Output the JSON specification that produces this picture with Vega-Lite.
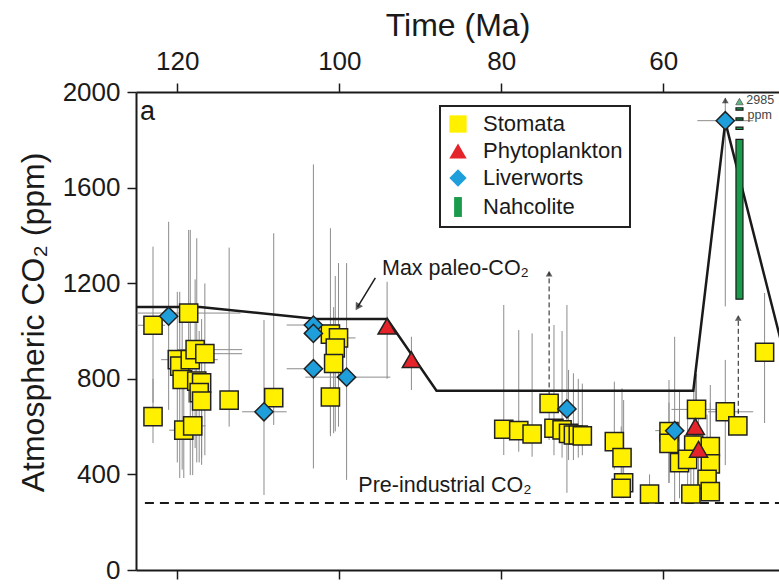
{
  "$schema": "https://vega.github.io/schema/vega-lite/v6.json",
  "width": 643,
  "height": 478,
  "autosize": {"type": "none"},
  "padding": {"left": 136, "top": 92, "right": 0, "bottom": 15},
  "background": "white",
  "config": {
    "view": {"stroke": null},
    "font": "Liberation Sans",
    "numberFormat": "d",
    "scale": {"continuousPadding": 0},
    "axis": {"grid": false, "domainColor": "#1a1a1a", "domainWidth": 2, "tickColor": "#1a1a1a", "tickWidth": 1.5, "tickSize": 9, "labelFont": "Liberation Sans", "labelFontSize": 26, "labelColor": "#1a1a1a", "titleFont": "Liberation Sans", "titleFontSize": 32, "titleFontWeight": "normal", "titleColor": "#1a1a1a"},
    "axisY": {"titlePadding": 12, "labelPadding": 7, "titleY": 230},
    "legend": {"orient": "none", "legendX": 304, "legendY": 14, "strokeColor": "#222", "strokeWidth": 2, "fillColor": "white", "padding": 7, "labelFont": "Liberation Sans", "labelFontSize": 22, "labelColor": "#1a1a1a", "symbolSize": 300, "symbolStrokeColor": "#222", "symbolStrokeWidth": 1.5, "rowPadding": 4, "labelOffset": 14}
  },
  "datasets": {
    "pts": [
      {"t":"Stomata","age":123.0,"co2":1024,"lo":700,"hi":1353,"xlo":125,"xhi":121.5},
      {"t":"Stomata","age":123.0,"co2":642,"lo":531,"hi":800},
      {"t":"Stomata","age":118.6,"co2":1075,"lo":700,"hi":1423,"xlo":125,"xhi":112.2},
      {"t":"Stomata","age":120.0,"co2":880,"lo":450,"hi":1164,"xlo":122,"xhi":115},
      {"t":"Stomata","age":119.7,"co2":853,"lo":385,"hi":1164},
      {"t":"Stomata","age":118.4,"co2":880,"lo":397,"hi":1423},
      {"t":"Stomata","age":117.8,"co2":922,"lo":510,"hi":1216,"xlo":120,"xhi":112},
      {"t":"Stomata","age":116.6,"co2":905,"lo":480,"hi":1199,"xlo":118,"xhi":112},
      {"t":"Stomata","age":119.4,"co2":797,"lo":420,"hi":1050},
      {"t":"Stomata","age":117.6,"co2":790,"lo":450,"hi":1388},
      {"t":"Stomata","age":117.0,"co2":783,"lo":470,"hi":1050,"xlo":119,"xhi":116},
      {"t":"Stomata","age":117.3,"co2":742,"lo":450,"hi":1000},
      {"t":"Stomata","age":117.0,"co2":707,"lo":440,"hi":950},
      {"t":"Stomata","age":119.2,"co2":585,"lo":385,"hi":800,"xlo":121,"xhi":118},
      {"t":"Stomata","age":118.1,"co2":603,"lo":397,"hi":850,"xlo":119.5,"xhi":116.5},
      {"t":"Stomata","age":113.6,"co2":711,"lo":600,"hi":1349},
      {"t":"Stomata","age":108.1,"co2":721,"lo":607,"hi":1409},
      {"t":"Stomata","age":101.1,"co2":987,"lo":572,"hi":1430},
      {"t":"Stomata","age":100.1,"co2":971,"lo":600,"hi":1284,"xlo":101.5,"xhi":98},
      {"t":"Stomata","age":100.5,"co2":929,"lo":580,"hi":1230},
      {"t":"Stomata","age":100.7,"co2":864,"lo":572,"hi":1100},
      {"t":"Stomata","age":101.1,"co2":724,"lo":560,"hi":950},
      {"t":"Stomata","age":79.7,"co2":589,"lo":481,"hi":1109},
      {"t":"Stomata","age":77.85,"co2":583,"lo":495,"hi":1004},
      {"t":"Stomata","age":76.2,"co2":569,"lo":474,"hi":990},
      {"t":"Stomata","age":74.1,"co2":697,"lo":544,"hi":697},
      {"t":"Stomata","age":73.5,"co2":593,"lo":480,"hi":1025},
      {"t":"Stomata","age":72.5,"co2":586,"lo":470,"hi":1000},
      {"t":"Stomata","age":71.7,"co2":572,"lo":460,"hi":837},
      {"t":"Stomata","age":71.1,"co2":565,"lo":460,"hi":823},
      {"t":"Stomata","age":70.5,"co2":565,"lo":470,"hi":800},
      {"t":"Stomata","age":70.0,"co2":561,"lo":480,"hi":780},
      {"t":"Stomata","age":66.05,"co2":537,"lo":420,"hi":788},
      {"t":"Stomata","age":65.1,"co2":470,"lo":360,"hi":760},
      {"t":"Stomata","age":64.9,"co2":365,"lo":300,"hi":711},
      {"t":"Stomata","age":65.2,"co2":342,"lo":300,"hi":600},
      {"t":"Stomata","age":61.7,"co2":318,"lo":290,"hi":400},
      {"t":"Stomata","age":59.3,"co2":579,"lo":364,"hi":795},
      {"t":"Stomata","age":59.3,"co2":530,"lo":364,"hi":700},
      {"t":"Stomata","age":55.9,"co2":672,"lo":450,"hi":820,"xlo":59,"xhi":53},
      {"t":"Stomata","age":56.25,"co2":523,"lo":350,"hi":746},
      {"t":"Stomata","age":54.2,"co2":516,"lo":330,"hi":774},
      {"t":"Stomata","age":58.0,"co2":449,"lo":300,"hi":746},
      {"t":"Stomata","age":57.0,"co2":463,"lo":300,"hi":700},
      {"t":"Stomata","age":54.2,"co2":444,"lo":300,"hi":700},
      {"t":"Stomata","age":54.6,"co2":379,"lo":290,"hi":650},
      {"t":"Stomata","age":54.2,"co2":328,"lo":290,"hi":500},
      {"t":"Stomata","age":56.6,"co2":318,"lo":290,"hi":500},
      {"t":"Stomata","age":52.35,"co2":662,"lo":439,"hi":879,"xlo":54.5,"xhi":48.9},
      {"t":"Stomata","age":50.8,"co2":603,"lo":603,"hi":603},
      {"t":"Stomata","age":47.5,"co2":911,"lo":615,"hi":1159,"xlo":48.5,"xhi":46.5},
      {"t":"Phytoplankton","age":94.1,"co2":1020,"lo":800,"hi":1206},
      {"t":"Phytoplankton","age":91.1,"co2":880,"lo":753,"hi":976},
      {"t":"Phytoplankton","age":56.05,"co2":600,"lo":450,"hi":800},
      {"t":"Phytoplankton","age":55.65,"co2":505,"lo":350,"hi":700},
      {"t":"Liverworts","age":121.07,"co2":1062,"lo":670,"hi":1457},
      {"t":"Liverworts","age":109.3,"co2":662,"lo":314,"hi":1046,"xlo":112,"xhi":106.5},
      {"t":"Liverworts","age":103.2,"co2":1025,"lo":425,"hi":1697,"xlo":106.5,"xhi":99.9},
      {"t":"Liverworts","age":103.2,"co2":990},
      {"t":"Liverworts","age":103.2,"co2":842,"xlo":106.5,"xhi":102},
      {"t":"Liverworts","age":99.1,"co2":807,"lo":377,"hi":1284,"xlo":104.2,"xhi":93.7},
      {"t":"Liverworts","age":71.9,"co2":674,"lo":323,"hi":1109},
      {"t":"Liverworts","age":58.6,"co2":583,"lo":282,"hi":976,"xlo":61,"xhi":57.5},
      {"t":"Liverworts","age":52.35,"co2":1880,"lo":1103,"hi":1975,"xlo":55.8,"xhi":48.9}
    ],
    "maxline": [
      {"i":1,"age":125.1,"co2":1100},
      {"i":2,"age":117.2,"co2":1100},
      {"i":3,"age":102.75,"co2":1050},
      {"i":4,"age":94.1,"co2":1050},
      {"i":5,"age":88.0,"co2":750},
      {"i":6,"age":56.3,"co2":750},
      {"i":7,"age":52.35,"co2":1875},
      {"i":8,"age":44.0,"co2":760}
    ],
    "nah": [
      {"age":50.6,"lo":1133,"hi":1802},
      {"age":50.6,"lo":1843,"hi":1853},
      {"age":50.6,"lo":1882,"hi":1892},
      {"age":50.6,"lo":1924,"hi":1934}
    ],
    "dash": [
      {"age":74.1,"lo":697,"hi":1245},
      {"age":50.75,"lo":620,"hi":1060}
    ],
    "heads": [
      {"age":74.1,"co2":1240,"c":"k"},
      {"age":50.75,"co2":1055,"c":"k"},
      {"age":52.35,"co2":1965,"c":"k"},
      {"age":50.6,"co2":1960,"c":"g"}
    ],
    "pre": [{"a1":124.0,"a2":45.7,"co2":280}],
    "arrow": [{"a1":95.55,"c1":1222,"a2":97.75,"c2":1100}]
  },
  "layer": [
    {
      "data": {"name": "pts"},
      "transform": [{"filter": "isValid(datum.hi)"}],
      "mark": {"type": "rule", "color": "#8c8c8c", "strokeWidth": 1},
      "encoding": {
        "x": {"field": "age", "type": "quantitative", "scale": {"domain": [45.72, 125.1], "reverse": true, "nice": false, "zero": false, "padding": 0}, "axis": {"orient": "top", "values": [120, 100, 80, 60], "format": "d", "title": "Time (Ma)", "titlePadding": 6, "labelPadding": 9}},
        "y": {"field": "lo", "type": "quantitative", "scale": {"domain": [0, 2000], "nice": false, "padding": 0}, "axis": {"orient": "left", "values": [0, 400, 800, 1200, 1600, 2000], "format": "d", "title": "Atmospheric CO₂ (ppm)"}},
        "y2": {"field": "hi"}
      }
    },
    {
      "data": {"name": "pts"},
      "transform": [{"filter": "isValid(datum.xlo)"}],
      "mark": {"type": "rule", "color": "#8c8c8c", "strokeWidth": 1},
      "encoding": {
        "x": {"field": "xlo", "type": "quantitative", "axis": {"orient": "bottom", "values": [120, 100, 80, 60], "labels": false, "title": null}},
        "x2": {"field": "xhi"},
        "y": {"field": "co2", "type": "quantitative", "axis": {"orient": "left", "values": [0, 400, 800, 1200, 1600, 2000], "format": "d", "title": "Atmospheric CO₂ (ppm)"}}
      }
    },
    {
      "data": {"name": "dash"},
      "mark": {"type": "rule", "color": "#1a1a1a", "strokeWidth": 1, "strokeDash": [5, 3]},
      "encoding": {
        "x": {"field": "age", "type": "quantitative", "axis": null},
        "y": {"field": "lo", "type": "quantitative", "axis": {"orient": "left", "values": [0, 400, 800, 1200, 1600, 2000], "format": "d", "title": "Atmospheric CO₂ (ppm)"}},
        "y2": {"field": "hi"}
      }
    },
    {
      "data": {"name": "pre"},
      "mark": {"type": "rule", "color": "#1a1a1a", "strokeWidth": 2, "strokeDash": [9, 6]},
      "encoding": {
        "x": {"field": "a1", "type": "quantitative", "axis": null},
        "x2": {"field": "a2"},
        "y": {"field": "co2", "type": "quantitative", "axis": {"orient": "left", "values": [0, 400, 800, 1200, 1600, 2000], "format": "d", "title": "Atmospheric CO₂ (ppm)"}}
      }
    },
    {
      "data": {"name": "maxline"},
      "mark": {"type": "line", "color": "#1a1a1a", "strokeWidth": 2.5, "clip": true},
      "encoding": {
        "x": {"field": "age", "type": "quantitative", "axis": null},
        "y": {"field": "co2", "type": "quantitative", "axis": {"orient": "left", "values": [0, 400, 800, 1200, 1600, 2000], "format": "d", "title": "Atmospheric CO₂ (ppm)"}},
        "order": {"field": "i"}
      }
    },
    {
      "data": {"name": "arrow"},
      "mark": {"type": "rule", "color": "#1a1a1a", "strokeWidth": 1.5},
      "encoding": {
        "x": {"field": "a1", "type": "quantitative", "axis": null},
        "x2": {"field": "a2"},
        "y": {"field": "c1", "type": "quantitative", "axis": {"orient": "left", "values": [0, 400, 800, 1200, 1600, 2000], "format": "d", "title": "Atmospheric CO₂ (ppm)"}},
        "y2": {"field": "c2"}
      }
    },
    {
      "data": {"name": "arrow"},
      "mark": {"type": "point", "shape": "triangle-up", "filled": true, "color": "#1a1a1a", "size": 70, "angle": 211},
      "encoding": {
        "x": {"field": "a2", "type": "quantitative", "axis": null},
        "y": {"field": "c2", "type": "quantitative", "axis": {"orient": "left", "values": [0, 400, 800, 1200, 1600, 2000], "format": "d", "title": "Atmospheric CO₂ (ppm)"}}
      }
    },
    {
      "data": {"name": "nah"},
      "mark": {"type": "bar", "size": 7},
      "encoding": {
        "x": {"field": "age", "type": "quantitative", "axis": null},
        "y": {"field": "lo", "type": "quantitative", "axis": {"orient": "left", "values": [0, 400, 800, 1200, 1600, 2000], "format": "d", "title": "Atmospheric CO₂ (ppm)"}},
        "y2": {"field": "hi"},
        "fill": {"value": "#1A9A4B"},
        "stroke": {"value": "#1a1a1a"},
        "strokeWidth": {"value": 1.2}
      }
    },
    {
      "data": {"name": "heads"},
      "transform": [{"filter": "datum.c == 'k'"}],
      "mark": {"type": "point", "shape": "triangle-up", "filled": true, "size": 45},
      "encoding": {
        "x": {"field": "age", "type": "quantitative", "axis": null},
        "y": {"field": "co2", "type": "quantitative", "axis": {"orient": "left", "values": [0, 400, 800, 1200, 1600, 2000], "format": "d", "title": "Atmospheric CO₂ (ppm)"}},
        "fill": {"value": "#1a1a1a"}
      }
    },
    {
      "data": {"name": "heads"},
      "transform": [{"filter": "datum.c == 'g'"}],
      "mark": {"type": "point", "shape": "triangle-up", "filled": true, "size": 55},
      "encoding": {
        "x": {"field": "age", "type": "quantitative", "axis": null},
        "y": {"field": "co2", "type": "quantitative", "axis": {"orient": "left", "values": [0, 400, 800, 1200, 1600, 2000], "format": "d", "title": "Atmospheric CO₂ (ppm)"}},
        "fill": {"value": "#1A9A4B"},
        "stroke": {"value": "#1a1a1a"},
        "strokeWidth": {"value": 0.8}
      }
    },
    {
      "data": {"name": "pts"},
      "mark": {"type": "point", "filled": true, "size": 330, "opacity": 1},
      "encoding": {
        "x": {"field": "age", "type": "quantitative", "axis": null},
        "y": {"field": "co2", "type": "quantitative", "axis": {"orient": "left", "values": [0, 400, 800, 1200, 1600, 2000], "format": "d", "title": "Atmospheric CO₂ (ppm)"}},
        "fill": {"field": "t", "type": "nominal", "scale": {"domain": ["Stomata", "Phytoplankton", "Liverworts", "Nahcolite"], "range": ["#FFF000", "#E5232A", "#1E9FDB", "#1A9A4B"]}, "legend": {"title": null, "symbolStrokeColor": "#222", "symbolStrokeWidth": 1.5}},
        "shape": {"field": "t", "type": "nominal", "scale": {"domain": ["Stomata", "Phytoplankton", "Liverworts", "Nahcolite"], "range": ["square", "triangle-up", "diamond", "M-0.45,-1.15H0.45V1.15H-0.45Z"]}, "legend": {"title": null, "symbolStrokeColor": "#222", "symbolStrokeWidth": 1.5}},
        "stroke": {"value": "#222"},
        "strokeWidth": {"value": 1.5}
      }
    },
    {
      "data": {"values": [{"age": 124.6, "co2": 1883, "txt": "a"}]},
      "mark": {"type": "text", "align": "left", "baseline": "alphabetic", "fontSize": 27, "color": "#1a1a1a"},
      "encoding": {
        "x": {"field": "age", "type": "quantitative", "axis": null},
        "y": {"field": "co2", "type": "quantitative", "axis": {"orient": "left", "values": [0, 400, 800, 1200, 1600, 2000], "format": "d", "title": "Atmospheric CO₂ (ppm)"}},
        "text": {"field": "txt"}
      }
    },
    {
      "data": {"values": [{"age": 94.73, "co2": 1234, "txt": "Max paleo-CO₂"}, {"age": 97.65, "co2": 325, "txt": "Pre-industrial CO₂"}]},
      "mark": {"type": "text", "align": "left", "baseline": "alphabetic", "fontSize": 21.5, "color": "#1a1a1a"},
      "encoding": {
        "x": {"field": "age", "type": "quantitative", "axis": null},
        "y": {"field": "co2", "type": "quantitative", "axis": {"orient": "left", "values": [0, 400, 800, 1200, 1600, 2000], "format": "d", "title": "Atmospheric CO₂ (ppm)"}},
        "text": {"field": "txt"}
      }
    },
    {
      "data": {"values": [{"age": 49.75, "co2": 1948, "txt": "2985"}, {"age": 49.6, "co2": 1885, "txt": "ppm"}]},
      "mark": {"type": "text", "align": "left", "baseline": "alphabetic", "fontSize": 12.5, "color": "#444"},
      "encoding": {
        "x": {"field": "age", "type": "quantitative", "axis": null},
        "y": {"field": "co2", "type": "quantitative", "axis": {"orient": "left", "values": [0, 400, 800, 1200, 1600, 2000], "format": "d", "title": "Atmospheric CO₂ (ppm)"}},
        "text": {"field": "txt"}
      }
    }
  ]
}
